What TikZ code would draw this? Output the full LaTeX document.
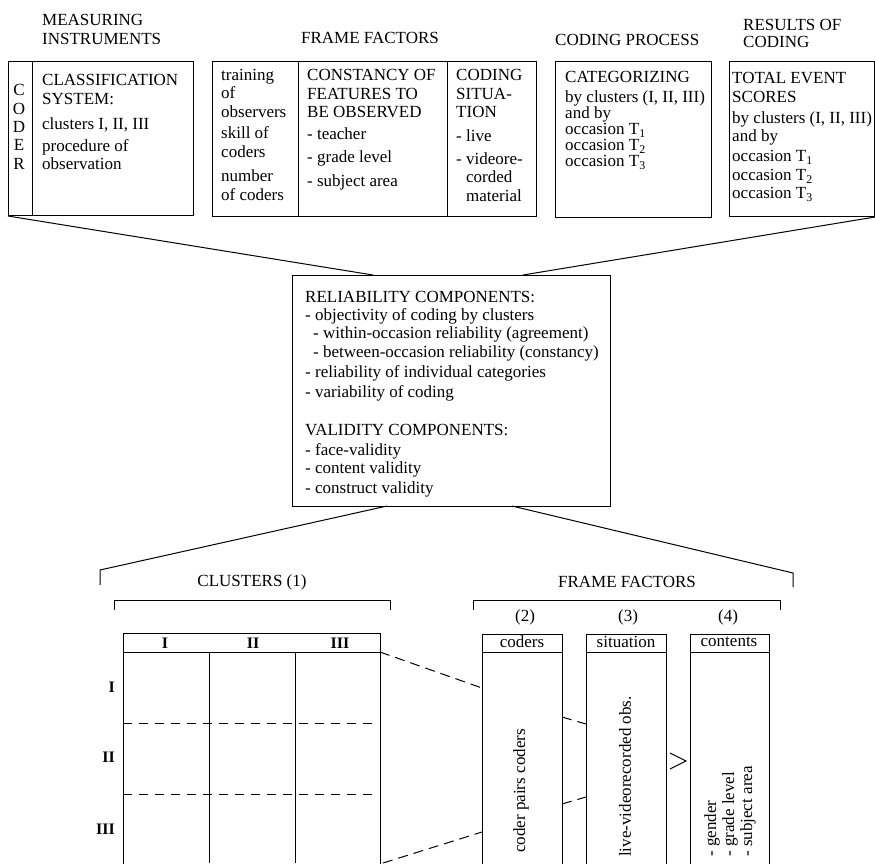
\documentclass[tikz,border=0pt]{standalone}
\usepackage{fontspec}
\setmainfont{Liberation Serif}
\usetikzlibrary{positioning, calc}

\begin{document}
\begin{tikzpicture}[x=1pt, y=-1pt,
      font=\fontsize{17}{18.5}\selectfont,
      box/.style={draw, line width=1pt, inner sep=0pt, anchor=north west},
      txt/.style={anchor=north west, inner sep=0pt, align=left},
      lbl/.style={inner sep=0pt},
      rlab/.style={inner sep=0pt, font=\fontsize{16}{18}\selectfont\bfseries},
      link/.style={line width=1pt},
      dlink/.style={line width=1pt, dash pattern=on 10pt off 6pt},
      rowsep/.style={line width=1pt, dash pattern=on 9pt off 7pt}
    ]
    \useasboundingbox (0,0) rectangle (875,863);
    \clip (0,0) rectangle (875,863);

    % headings of the top row
    \node[txt] (hinstr) at (42,14.5) {MEASURING\\INSTRUMENTS};
    \node[lbl] (hframe) at (370,38) {FRAME FACTORS};
    \node[lbl, anchor=west] (hproc) at (555,40) {CODING PROCESS};
    \node[txt] (hres) at (743,19.5) {RESULTS OF\\[-1.5pt]CODING};

    % top row of boxes
    \node[box, minimum width=185pt, minimum height=154pt] (instr) at (8,61) {};
    \draw[link] ([xshift=24pt]instr.north west) -- ([xshift=24pt]instr.south west);
    \node[txt, align=center, anchor=north, font=\fontsize{17}{18.3}\selectfont] (coder) at (19,84.5) {C\\O\\D\\E\\R};
    \node[txt] (clsys) at (42,74.5) {CLASSIFICATION\\SYSTEM:\\[6.5pt]clusters I, II, III\\[3.5pt]procedure of\\observation};

    \node[box, minimum width=324pt, minimum height=155pt] (frame) at (212,61) {};
    \draw[link] ([xshift=86pt]frame.north west) -- ([xshift=86pt]frame.south west);
    \draw[link] ([xshift=235pt]frame.north west) -- ([xshift=235pt]frame.south west);
    \node[txt] (ftrain) at (221,69) {training\\of\\observers\\[3pt]skill of\\coders\\[6pt]number\\of coders};
    \node[txt] (fconst) at (307,69.5) {CONSTANCY OF\\FEATURES TO\\BE OBSERVED\\[3.5pt]- teacher\\[4pt]- grade level\\[6pt]- subject area};
    \node[txt] (fsit) at (456,69.5) {CODING\\SITUA-\\TION\\[5pt]- live\\[4.5pt]- videore-\\\hphantom{- }corded\\\hphantom{- }material};

    \node[box, minimum width=156pt, minimum height=156pt] (proc) at (555,61) {};
    \node[txt] (pcat) at (565,71.5) {CATEGORIZING\\[1.5pt]by clusters (I, II, III)\\[-2.5pt]and by\\[-2.5pt]occasion T\textsubscript{1}\\[-2.5pt]occasion T\textsubscript{2}\\[-2.5pt]occasion T\textsubscript{3}};

    \node[box, minimum width=145pt, minimum height=155pt] (res) at (729,61) {};
    \node[txt] (rtot) at (732,72.5) {TOTAL EVENT\\SCORES\\[2.5pt]by clusters (I, II, III)\\and by\\[1.5pt]occasion T\textsubscript{1}\\occasion T\textsubscript{2}\\occasion T\textsubscript{3}};

    % middle box
    \node[box, minimum width=318pt, minimum height=231pt] (rel) at (292,275) {};
    \node[txt, font=\fontsize{17}{19}\selectfont] (rcomp) at (305,291.5) {RELIABILITY COMPONENTS:\\[-1pt]
      - objectivity of coding by clusters\\[-1pt]
      \hspace{8pt}- within-occasion reliability (agreement)\\
      \hspace{8pt}- between-occasion reliability (constancy)\\[1pt]
      - reliability of individual categories\\[1pt]
      - variability of coding\\[19pt]
      VALIDITY COMPONENTS:\\[1pt]
      - face-validity\\[-1pt]
      - content validity\\[1pt]
      - construct validity};

    \coordinate (relL) at (373,275);
    \coordinate (relR) at (523,275);
    \draw[link] (instr.south west) -- (relL);
    \draw[link] (res.south east) -- (relR);

    \coordinate (relBL) at (387,506);
    \coordinate (relBR) at (512,506);
    \coordinate (clusL) at (100,570);
    \coordinate (ffR) at (793,573);
    \draw[link] (relBL) -- (clusL) -- ++(0,15);
    \draw[link] (relBR) -- (ffR) -- ++(0,14);

    % lower headings and brackets
    \node[lbl] (hclus) at (252,582) {CLUSTERS (1)};
    \draw[link] (114,610) -- (114,600) -- (390,600) -- (390,610);
    \node[lbl] (hff) at (627,582) {FRAME FACTORS};
    \draw[link] (473,610) -- (473,600) -- (780,600) -- (780,610);
    \node[lbl] (n2) at (525,617) {(2)};
    \node[lbl] (n3) at (628,617) {(3)};
    \node[lbl] (n4) at (728,617) {(4)};

    % cluster table
    \node[box, minimum width=257pt, minimum height=250pt] (tab) at (123,633) {};
    \draw[link] ([yshift=-19pt]tab.north west) -- ([yshift=-19pt]tab.north east);
    \draw[link] (209,652) -- (209,863);
    \draw[link] (295,652) -- (295,863);
    \node[rlab] (c1) at (165,643) {I};
    \node[rlab] (c2) at (253,643) {II};
    \node[rlab] (c3) at (340,643) {III};
    \node[rlab, anchor=east] (r1) at (115,687) {I};
    \node[rlab, anchor=east] (r2) at (115,757) {II};
    \node[rlab, anchor=east] (r3) at (115,829) {III};
    \draw[rowsep] (123,723) -- (373,723);
    \draw[rowsep] (123,794) -- (373,794);

    % frame factor columns
    \node[box, minimum width=80pt, minimum height=250pt] (codb) at (482,634) {};
    \draw[link] ([yshift=-18pt]codb.north west) -- ([yshift=-18pt]codb.north east);
    \node[lbl] (hcod) at (522,642) {coders};
    \node[box, minimum width=80pt, minimum height=250pt] (sitb) at (586,634) {};
    \draw[link] ([yshift=-18pt]sitb.north west) -- ([yshift=-18pt]sitb.north east);
    \node[lbl] (hsit) at (626,642) {situation};
    \node[box, minimum width=79pt, minimum height=250pt] (conb) at (690,634) {};
    \draw[link] ([yshift=-18pt]conb.north west) -- ([yshift=-18pt]conb.north east);
    \node[lbl] (hcon) at (729,642) {contents};

    \node[lbl, rotate=90, anchor=west] (tpairs) at (521,853) {coder pairs coders};
    \node[lbl, rotate=90, anchor=west] (tlive) at (625,857) {live-videorecorded obs.};
    \node[txt, rotate=90, font=\fontsize{17}{18}\selectfont] (tcont) at (704,857) {- gender\\- grade level\\- subject area};

    % funnel from the table through the columns
    \coordinate (tabT) at (380,652);
    \coordinate (tabB) at (383,863);
    \coordinate (codL1) at (482,688);
    \coordinate (codL2) at (482,832);
    \coordinate (codR1) at (562,717);
    \coordinate (codR2) at (562,804);
    \coordinate (sitL1) at (586,724);
    \coordinate (sitL2) at (586,797);
    \coordinate (sitR1) at (670,753);
    \coordinate (sitR2) at (670,769);
    \coordinate (conTip) at (686,761);
    \draw[dlink] (tabT) -- (codL1);
    \draw[dlink] (tabB) -- (codL2);
    \draw[dlink] (codR1) -- (sitL1);
    \draw[dlink] (codR2) -- (sitL2);
    \draw[link] (sitR1) -- (conTip) -- (sitR2);
\end{tikzpicture}
\end{document}
